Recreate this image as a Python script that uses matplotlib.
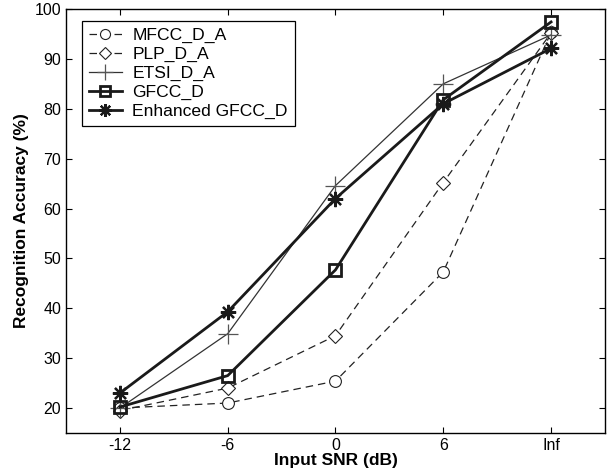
import matplotlib
matplotlib.use("Agg")
import matplotlib.pyplot as plt

plt.rcParams['font.family'] = ['Liberation Sans', 'DejaVu Sans']

x_labels = ['-12', '-6', '0', '6', 'Inf']
mfcc = [20.0, 21.0, 25.4, 47.3, 95.3]
plp = [19.5, 24.0, 34.5, 65.2, 95.2]
etsi = [20.0, 34.9, 64.6, 85.0, 94.8]
gfcc = [20.2, 26.5, 47.7, 81.8, 97.4]
enh = [23.0, 39.3, 62.0, 81.0, 92.1]

xs = list(range(len(x_labels)))

fig = plt.figure(figsize=(6.08, 4.73), dpi=100)
ax = fig.add_axes([0.1086, 0.0846, 0.8864, 0.8964])

ax.plot(xs, mfcc, linestyle=(0, (6, 4)), color='#222222', lw=0.9, marker='o', ms=8.5,
        mfc='white', mec='#222222', mew=0.8, label='MFCC_D_A')
ax.plot(xs, plp, linestyle=(0, (6, 4)), color='#222222', lw=0.9, marker='D', ms=7,
        mfc='white', mec='#222222', mew=0.8, label='PLP_D_A')
ax.plot(xs, etsi, linestyle='-', color='#333333', lw=0.9, marker='+', ms=14,
        mec='#555555', mew=0.9, label='ETSI_D_A')
ax.plot(xs, gfcc, linestyle='-', color='#1a1a1a', lw=2.0, marker='s', ms=9,
        mfc='none', mec='#1a1a1a', mew=2.0, label='GFCC_D')
ax.plot(xs, enh, linestyle='-', color='#1a1a1a', lw=2.0, marker=(8, 2, 0), ms=11,
        mec='#1a1a1a', mew=1.6, label='Enhanced GFCC_D')

ax.set_xlim(-0.5, 4.5)
ax.set_ylim(15, 100)
ax.set_xticks(xs)
ax.set_xticklabels(x_labels)
ax.set_yticks(range(20, 101, 10))
ax.tick_params(direction='in', top=True, right=True, labelsize=11.5, length=4, width=0.8)
for s in ax.spines.values():
    s.set_linewidth(1.0)

ax.set_xlabel('Input SNR (dB)', fontsize=12.5, fontweight='bold', labelpad=0)
ax.set_ylabel('Recognition Accuracy (%)', fontsize=12.5, fontweight='bold', labelpad=4)

leg = ax.legend(loc='upper left', bbox_to_anchor=(0.029, 0.972), fontsize=12.6,
                frameon=True, fancybox=False, edgecolor='black', framealpha=1,
                borderpad=0.4, labelspacing=0.2, handlelength=1.9, handletextpad=0.6,
                borderaxespad=0, markerscale=0.85)
leg.get_frame().set_linewidth(0.9)

fig.savefig('out.png', dpi=100)
